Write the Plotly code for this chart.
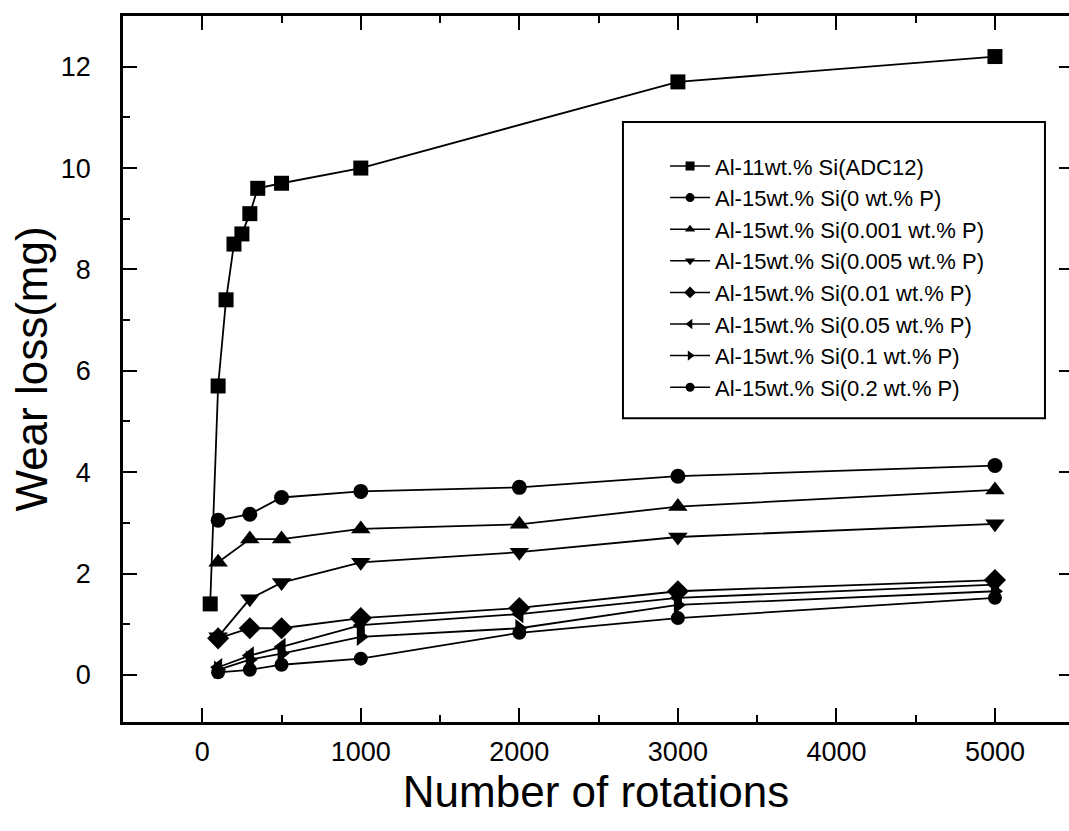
import plotly.graph_objects as go

# ---------------- data ----------------
rot_adc = [50, 100, 150, 200, 250, 300, 350, 500, 1000, 3000, 5000]
wear_adc = [1.4, 5.7, 7.4, 8.5, 8.7, 9.1, 9.6, 9.7, 10.0, 11.7, 12.2]

rot_p = [100, 300, 500, 1000, 2000, 3000, 5000]
wear_p0 = [3.05, 3.17, 3.5, 3.62, 3.7, 3.92, 4.13]
wear_p0001 = [2.22, 2.68, 2.68, 2.88, 2.97, 3.32, 3.65]
wear_p0005 = [0.75, 1.5, 1.82, 2.22, 2.42, 2.72, 2.98]
wear_p001 = [0.72, 0.92, 0.92, 1.12, 1.32, 1.65, 1.87]
wear_p005 = [0.15, 0.38, 0.55, 0.98, 1.2, 1.52, 1.78]
wear_p01 = [0.1, 0.3, 0.42, 0.75, 0.92, 1.38, 1.65]
wear_p02 = [0.05, 0.1, 0.2, 0.32, 0.83, 1.12, 1.52]

names = [
    "Al-11wt.% Si(ADC12)",
    "Al-15wt.% Si(0 wt.% P)",
    "Al-15wt.% Si(0.001 wt.% P)",
    "Al-15wt.% Si(0.005 wt.% P)",
    "Al-15wt.% Si(0.01 wt.% P)",
    "Al-15wt.% Si(0.05 wt.% P)",
    "Al-15wt.% Si(0.1 wt.% P)",
    "Al-15wt.% Si(0.2 wt.% P)",
]
symbols = ["square", "circle", "triangle-up", "triangle-down",
           "diamond", "triangle-left", "triangle-right", "circle"]
sizes = [15, 15, 17, 17, 17, 16, 16, 14]

series_x = [rot_adc] + [rot_p] * 7
series_y = [wear_adc, wear_p0, wear_p0001, wear_p0005,
            wear_p001, wear_p005, wear_p01, wear_p02]

FONT = "Liberation Sans, Arial, sans-serif"

fig = go.Figure()
for x, y, nm, sym, sz in zip(series_x, series_y, names, symbols, sizes):
    fig.add_trace(go.Scatter(
        x=x, y=y, mode="lines+markers", name=nm, showlegend=False,
        line=dict(color="black", width=1.8),
        marker=dict(symbol=sym, size=sz, color="black"),
    ))
# legend entries (smaller markers as in the original legend)
for nm, sym in zip(names, symbols):
    fig.add_trace(go.Scatter(
        x=[None], y=[None], mode="lines+markers", name=nm,
        line=dict(color="black", width=1.5),
        marker=dict(symbol=sym, size=9, color="black"),
    ))

# right-hand tick marks (no line, axis edge lies at the image border)
fig.add_trace(go.Scatter(x=[None], y=[None], yaxis="y2", showlegend=False))

L, T = 123, 16
W, H = 1069, 831
B = 109

fig.update_layout(
    width=W, height=H,
    margin=dict(l=L, r=0, t=T, b=B),
    paper_bgcolor="white", plot_bgcolor="white",
    font=dict(family=FONT, color="black"),
    xaxis=dict(
        range=[-500, 5467], showgrid=False, zeroline=False,
        showline=True, linecolor="black", linewidth=2.5, mirror="ticks",
        ticks="inside", ticklen=14, tickwidth=2, tickcolor="black",
        tick0=0, dtick=1000,
        minor=dict(ticks="inside", ticklen=7, tickwidth=2, tickcolor="black", dtick=500, tick0=0),
        tickfont=dict(size=27, family=FONT), ticklabelstandoff=4,
        title=dict(text="Number of rotations", font=dict(size=44, family=FONT), standoff=6),
    ),
    yaxis=dict(
        range=[-0.93, 13.0], showgrid=False, zeroline=False,
        showline=True, linecolor="black", linewidth=2.5,
        ticks="inside", ticklen=14, tickwidth=2, tickcolor="black",
        tick0=0, dtick=2,
        minor=dict(ticks="inside", ticklen=7, tickwidth=2, tickcolor="black", dtick=1, tick0=0),
        tickfont=dict(size=27, family=FONT), ticklabelstandoff=24,
        title=dict(text="Wear loss(mg)", font=dict(size=44, family=FONT), standoff=0),
    ),
    yaxis2=dict(
        overlaying="y", side="right", range=[-0.93, 13.0],
        showgrid=False, zeroline=False, showline=False,
        showticklabels=False, ticks="inside", ticklen=10, tickwidth=2, tickcolor="black",
        tick0=0, dtick=2,
    ),
    legend=dict(
        x=0.573, y=0.817, xanchor="left", yanchor="top",
        bgcolor="rgba(0,0,0,0)", borderwidth=0,
        font=dict(size=22, family=FONT), itemwidth=40,
    ),
    shapes=[dict(
        type="rect", xref="paper", yref="paper",
        x0=0.5285, x1=0.9746, y0=0.4304, y1=0.85,
        line=dict(color="black", width=2), fillcolor="rgba(0,0,0,0)",
    )],
)

fig.write_html("out.html")
